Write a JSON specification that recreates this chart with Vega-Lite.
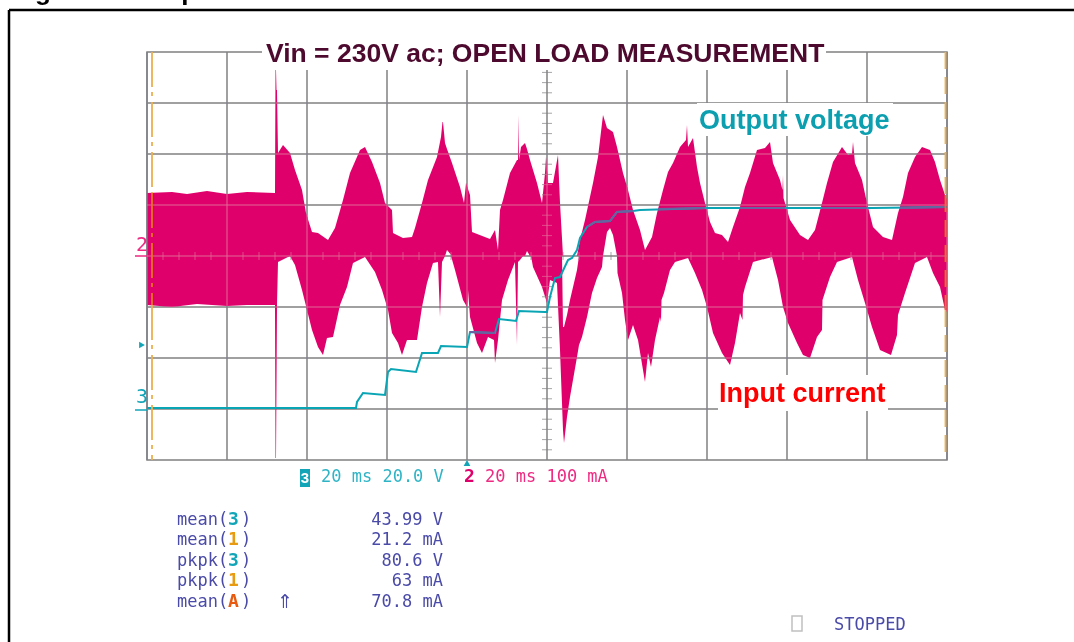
{"$schema":"https://vega.github.io/schema/vega-lite/v6.json","width":800,"height":408,"autosize":{"type":"none"},"padding":{"left":147,"top":52,"right":127,"bottom":182},"background":"#ffffff","config":{"view":{"stroke":"#808080","strokeWidth":1.5}},
"datasets":{
"upper":[{"t":0,"v":267,"b":204},{"t":25,"v":268,"b":204},{"t":40,"v":266,"b":204},{"t":60,"v":269,"b":204},{"t":80,"v":266,"b":204},{"t":100,"v":268,"b":204},{"t":128,"v":267,"b":204},{"t":128.5,"v":390,"b":204},{"t":129,"v":390,"b":204},{"t":129.5,"v":370,"b":204},{"t":130,"v":370,"b":204},{"t":131,"v":307,"b":204},{"t":136,"v":315,"b":204},{"t":143,"v":307,"b":204},{"t":148,"v":290,"b":204},{"t":155,"v":270,"b":204},{"t":159,"v":247,"b":204},{"t":165,"v":228,"b":204},{"t":171,"v":227,"b":204},{"t":181,"v":220,"b":204},{"t":188,"v":232,"b":204},{"t":196,"v":260,"b":204},{"t":203,"v":287,"b":204},{"t":213,"v":310,"b":204},{"t":218,"v":313,"b":204},{"t":225,"v":298,"b":204},{"t":233,"v":277,"b":204},{"t":238,"v":257,"b":204},{"t":245,"v":250,"b":204},{"t":246,"v":227,"b":204},{"t":256,"v":222,"b":204},{"t":265,"v":223,"b":204},{"t":268,"v":232,"b":204},{"t":275,"v":257,"b":204},{"t":281,"v":280,"b":204},{"t":290,"v":303,"b":204},{"t":294,"v":323,"b":204},{"t":295.5,"v":338,"b":204},{"t":296,"v":338,"b":204},{"t":298,"v":317,"b":204},{"t":300,"v":311,"b":210},{"t":305,"v":297,"b":204},{"t":313,"v":273,"b":204},{"t":317,"v":257,"b":204},{"t":319,"v":277,"b":204},{"t":323,"v":265,"b":204},{"t":325,"v":228,"b":204},{"t":343,"v":221,"b":204},{"t":348,"v":230,"b":204},{"t":351,"v":210,"b":204},{"t":353,"v":250,"b":204},{"t":356,"v":260,"b":204},{"t":363,"v":287,"b":204},{"t":370,"v":300,"b":204},{"t":371,"v":300,"b":204},{"t":371.5,"v":345,"b":204},{"t":372,"v":300,"b":204},{"t":374,"v":313,"b":204},{"t":378,"v":317,"b":204},{"t":380,"v":311,"b":209},{"t":383,"v":300,"b":204},{"t":390,"v":277,"b":204},{"t":395,"v":257,"b":204},{"t":398,"v":287,"b":204},{"t":399,"v":303,"b":204},{"t":401,"v":277,"b":204},{"t":406,"v":277,"b":204},{"t":411,"v":305,"b":204},{"t":413,"v":257,"b":204},{"t":416,"v":204,"b":204},{"t":430,"v":204,"b":204},{"t":433,"v":220,"b":204},{"t":438,"v":240,"b":204},{"t":446,"v":277,"b":204},{"t":451,"v":303,"b":204},{"t":456,"v":345,"b":204},{"t":460,"v":332,"b":228},{"t":463,"v":330,"b":232},{"t":466,"v":328,"b":225},{"t":470,"v":313,"b":204},{"t":476,"v":287,"b":204},{"t":481,"v":270,"b":204},{"t":486,"v":250,"b":204},{"t":493,"v":230,"b":204},{"t":498,"v":210,"b":204},{"t":505,"v":223,"b":204},{"t":510,"v":247,"b":204},{"t":516,"v":270,"b":204},{"t":521,"v":288,"b":204},{"t":526,"v":297,"b":204},{"t":533,"v":313,"b":204},{"t":539,"v":320,"b":204},{"t":540,"v":335,"b":204},{"t":541,"v":313,"b":204},{"t":546,"v":322,"b":204},{"t":550,"v":293,"b":204},{"t":553,"v":277,"b":204},{"t":558,"v":257,"b":204},{"t":563,"v":238,"b":204},{"t":568,"v":227,"b":204},{"t":575,"v":225,"b":204},{"t":581,"v":218,"b":204},{"t":586,"v":233,"b":204},{"t":593,"v":253,"b":204},{"t":598,"v":273,"b":204},{"t":603,"v":287,"b":204},{"t":610,"v":310,"b":204},{"t":618,"v":312,"b":204},{"t":623,"v":318,"b":204},{"t":626,"v":297,"b":204},{"t":633,"v":280,"b":204},{"t":635.5,"v":270,"b":204},{"t":636,"v":285,"b":204},{"t":636.5,"v":262,"b":204},{"t":638,"v":257,"b":204},{"t":643,"v":240,"b":204},{"t":653,"v":225,"b":204},{"t":661,"v":220,"b":204},{"t":668,"v":230,"b":204},{"t":675,"v":257,"b":204},{"t":680,"v":277,"b":204},{"t":686,"v":298,"b":204},{"t":695,"v":313,"b":204},{"t":701,"v":305,"b":204},{"t":705,"v":306,"b":204},{"t":706,"v":318,"b":204},{"t":708,"v":297,"b":204},{"t":715,"v":280,"b":204},{"t":720,"v":257,"b":204},{"t":726,"v":233,"b":204},{"t":736,"v":223,"b":204},{"t":745,"v":220,"b":204},{"t":751,"v":247,"b":204},{"t":756,"v":263,"b":204},{"t":761,"v":287,"b":204},{"t":768,"v":303,"b":204},{"t":775,"v":313,"b":204},{"t":783,"v":310,"b":204},{"t":788,"v":298,"b":204},{"t":793,"v":280,"b":204},{"t":798,"v":265,"b":204},{"t":800,"v":260,"b":204}],
"lower":[{"t":0,"v":155,"b":204},{"t":25,"v":153,"b":204},{"t":50,"v":156,"b":204},{"t":80,"v":154,"b":204},{"t":100,"v":155,"b":204},{"t":128,"v":155,"b":204},{"t":128.5,"v":2,"b":204},{"t":129,"v":2,"b":204},{"t":130,"v":155,"b":204},{"t":131,"v":198,"b":204},{"t":143,"v":204,"b":204},{"t":148,"v":195,"b":204},{"t":155,"v":170,"b":204},{"t":160,"v":150,"b":204},{"t":165,"v":130,"b":204},{"t":171,"v":113,"b":204},{"t":176,"v":105,"b":204},{"t":180,"v":122,"b":204},{"t":186,"v":123,"b":204},{"t":193,"v":155,"b":204},{"t":200,"v":173,"b":204},{"t":206,"v":197,"b":204},{"t":218,"v":203,"b":204},{"t":228,"v":188,"b":204},{"t":235,"v":170,"b":204},{"t":241,"v":150,"b":204},{"t":245,"v":127,"b":204},{"t":251,"v":117,"b":204},{"t":255,"v":105,"b":204},{"t":260,"v":120,"b":204},{"t":270,"v":120,"b":204},{"t":275,"v":153,"b":204},{"t":280,"v":177,"b":204},{"t":286,"v":197,"b":204},{"t":291,"v":198,"b":204},{"t":293,"v":143,"b":204},{"t":295,"v":198,"b":204},{"t":298,"v":204,"b":204},{"t":304,"v":204,"b":204},{"t":308,"v":190,"b":204},{"t":316,"v":160,"b":204},{"t":320,"v":153,"b":204},{"t":321,"v":170,"b":204},{"t":323,"v":143,"b":204},{"t":330,"v":117,"b":204},{"t":335,"v":107,"b":204},{"t":341,"v":123,"b":204},{"t":347,"v":120,"b":204},{"t":348,"v":97,"b":204},{"t":351,"v":120,"b":204},{"t":355,"v":160,"b":204},{"t":361,"v":180,"b":204},{"t":368,"v":198,"b":204},{"t":370,"v":115,"b":204},{"t":371,"v":198,"b":204},{"t":373,"v":200,"b":204},{"t":376,"v":204,"b":204},{"t":384,"v":204,"b":204},{"t":386,"v":193,"b":204},{"t":395,"v":173,"b":204},{"t":400,"v":157,"b":204},{"t":403,"v":180,"b":204},{"t":410,"v":177,"b":204},{"t":413,"v":110,"b":204},{"t":415,"v":57,"b":204},{"t":416,"v":30,"b":133},{"t":417,"v":17,"b":133},{"t":420,"v":43,"b":145},{"t":423,"v":63,"b":160},{"t":430,"v":103,"b":190},{"t":432,"v":115,"b":204},{"t":435,"v":123,"b":204},{"t":440,"v":143,"b":204},{"t":445,"v":167,"b":204},{"t":450,"v":182,"b":204},{"t":455,"v":193,"b":204},{"t":456,"v":204,"b":204},{"t":470,"v":204,"b":204},{"t":470.5,"v":187,"b":204},{"t":475,"v":167,"b":204},{"t":478,"v":140,"b":204},{"t":481,"v":120,"b":204},{"t":486,"v":135,"b":204},{"t":491,"v":120,"b":204},{"t":496,"v":90,"b":204},{"t":498,"v":78,"b":204},{"t":501,"v":107,"b":204},{"t":504,"v":93,"b":204},{"t":508,"v":120,"b":204},{"t":513,"v":143,"b":204},{"t":514,"v":138,"b":204},{"t":514.5,"v":160,"b":204},{"t":517,"v":167,"b":204},{"t":523,"v":190,"b":204},{"t":528,"v":198,"b":204},{"t":541,"v":202,"b":204},{"t":548,"v":187,"b":204},{"t":555,"v":170,"b":204},{"t":560,"v":153,"b":204},{"t":566,"v":127,"b":204},{"t":575,"v":107,"b":204},{"t":583,"v":95,"b":204},{"t":588,"v":117,"b":204},{"t":593,"v":147,"b":204},{"t":595.5,"v":140,"b":204},{"t":596,"v":165,"b":204},{"t":598,"v":173,"b":204},{"t":606,"v":198,"b":204},{"t":625,"v":203,"b":204},{"t":631,"v":180,"b":204},{"t":636,"v":153,"b":204},{"t":641,"v":137,"b":204},{"t":650,"v":117,"b":204},{"t":656,"v":105,"b":204},{"t":663,"v":102,"b":204},{"t":670,"v":123,"b":204},{"t":675,"v":130,"b":204},{"t":675.5,"v":160,"b":204},{"t":683,"v":183,"b":204},{"t":690,"v":198,"b":204},{"t":705,"v":203,"b":204},{"t":711,"v":180,"b":204},{"t":718,"v":157,"b":204},{"t":725,"v":133,"b":204},{"t":733,"v":110,"b":204},{"t":744,"v":105,"b":204},{"t":750,"v":125,"b":204},{"t":751,"v":145,"b":204},{"t":758,"v":167,"b":204},{"t":768,"v":197,"b":204},{"t":780,"v":203,"b":204},{"t":786,"v":187,"b":204},{"t":793,"v":173,"b":204},{"t":798,"v":150,"b":204},{"t":800,"v":148,"b":204}],
"voltage":[{"t":0,"v":52},{"t":100,"v":52},{"t":209,"v":52},{"t":210,"v":58},{"t":216,"v":67},{"t":238,"v":65},{"t":241,"v":88},{"t":244,"v":91},{"t":269,"v":88},{"t":275,"v":107},{"t":291,"v":107},{"t":294,"v":114},{"t":320,"v":113},{"t":323,"v":128},{"t":348,"v":127},{"t":352,"v":141},{"t":369,"v":139},{"t":372,"v":149},{"t":398,"v":148},{"t":400,"v":148},{"t":403,"v":163},{"t":408,"v":182},{"t":413,"v":183},{"t":421,"v":200},{"t":425,"v":202},{"t":430,"v":210},{"t":433,"v":222},{"t":440,"v":233},{"t":448,"v":238},{"t":463,"v":239},{"t":470,"v":248},{"t":486,"v":249},{"t":493,"v":250},{"t":560,"v":252},{"t":660,"v":252},{"t":726,"v":252},{"t":800,"v":253}],
"overlap":[{"s":"a","t":323,"v":128},{"s":"a","t":348,"v":127},{"s":"b","t":440,"v":233},{"s":"b","t":448,"v":238},{"s":"b","t":463,"v":239},{"s":"b","t":470,"v":248},{"s":"b","t":486,"v":249},{"s":"c","t":511,"v":251},{"s":"c","t":558,"v":252},{"s":"d","t":593,"v":252},{"s":"d","t":638,"v":252},{"s":"e","t":675,"v":252},{"s":"e","t":720,"v":252},{"s":"f","t":753,"v":252},{"s":"f","t":800,"v":253}],
"gridV":[{"t":0,"v":0,"v2":408},{"t":80,"v":0,"v2":408},{"t":160,"v":0,"v2":408},{"t":240,"v":0,"v2":408},{"t":320,"v":0,"v2":408},{"t":400,"v":0,"v2":408},{"t":480,"v":0,"v2":408},{"t":560,"v":0,"v2":408},{"t":640,"v":0,"v2":408},{"t":720,"v":0,"v2":408},{"t":800,"v":0,"v2":408}],
"gridH":[{"t":0,"t2":800,"v":51},{"t":0,"t2":800,"v":102},{"t":0,"t2":800,"v":153},{"t":0,"t2":800,"v":204},{"t":0,"t2":800,"v":255},{"t":0,"t2":800,"v":306},{"t":0,"t2":800,"v":357}],
"ticksH":[{"t":16,"v":204},{"t":32,"v":204},{"t":48,"v":204},{"t":64,"v":204},{"t":96,"v":204},{"t":112,"v":204},{"t":128,"v":204},{"t":144,"v":204},{"t":176,"v":204},{"t":192,"v":204},{"t":208,"v":204},{"t":224,"v":204},{"t":256,"v":204},{"t":272,"v":204},{"t":288,"v":204},{"t":304,"v":204},{"t":336,"v":204},{"t":352,"v":204},{"t":368,"v":204},{"t":384,"v":204},{"t":416,"v":204},{"t":432,"v":204},{"t":448,"v":204},{"t":464,"v":204},{"t":496,"v":204},{"t":512,"v":204},{"t":528,"v":204},{"t":544,"v":204},{"t":576,"v":204},{"t":592,"v":204},{"t":608,"v":204},{"t":624,"v":204},{"t":656,"v":204},{"t":672,"v":204},{"t":688,"v":204},{"t":704,"v":204},{"t":736,"v":204},{"t":752,"v":204},{"t":768,"v":204},{"t":784,"v":204}],
"ticksV":[{"t":400,"v":10.2},{"t":400,"v":20.4},{"t":400,"v":30.6},{"t":400,"v":40.8},{"t":400,"v":61.2},{"t":400,"v":71.4},{"t":400,"v":81.6},{"t":400,"v":91.8},{"t":400,"v":112.2},{"t":400,"v":122.4},{"t":400,"v":132.6},{"t":400,"v":142.8},{"t":400,"v":163.2},{"t":400,"v":173.4},{"t":400,"v":183.6},{"t":400,"v":193.8},{"t":400,"v":214.2},{"t":400,"v":224.4},{"t":400,"v":234.6},{"t":400,"v":244.8},{"t":400,"v":265.2},{"t":400,"v":275.4},{"t":400,"v":285.6},{"t":400,"v":295.8},{"t":400,"v":316.2},{"t":400,"v":326.4},{"t":400,"v":336.6},{"t":400,"v":346.8},{"t":400,"v":367.2},{"t":400,"v":377.4},{"t":400,"v":387.6}],
"boxes":[{"t":115,"t2":679,"v":430,"v2":390},{"t":550,"t2":746,"v":357,"v2":324},{"t":571,"t2":741,"v":85,"v2":49}],
"frame":[{"t":-138,"t2":927,"v":450,"v2":450},{"t":-138,"t2":-138,"v":450,"v2":-182}],
"cursorL":[{"t":5,"v":408,"v2":267,"kind":"cursor"},{"t":5,"v":267,"v2":155,"kind":"cursorPink"},{"t":5,"v":155,"v2":0,"kind":"cursor"}],
"cursorR":[{"t":798.5,"v":408,"v2":265,"kind":"cursor"},{"t":798.5,"v":265,"v2":150,"kind":"cursorPink"},{"t":798.5,"v":150,"v2":0,"kind":"cursor"}],
"underlines":[{"t":-12,"t2":0,"v":204,"kind":"pink"},{"t":-12,"t2":0,"v":50,"kind":"tealBold"}],
"title":[{"t":119,"v":406,"text":"Vin = 230V ac; OPEN LOAD MEASUREMENT","kind":"title"}],
"big":[{"t":552,"v":339,"text":"Output voltage","kind":"output"},{"t":572,"v":66,"text":"Input current","kind":"input"}],
"heading":[{"t":-135,"v":460,"text":"Figure 14.","kind":"heading"},{"t":14,"v":460,"text":"Open load measurement","kind":"heading"}],
"mono":[{"t":174,"v":-17,"text":"20 ms 20.0 V","kind":"teal"},{"t":338,"v":-17,"text":"20 ms 100 mA","kind":"pink"},{"t":30,"v":-60,"text":"mean(","kind":"blue"},{"t":30,"v":-80,"text":"mean(","kind":"blue"},{"t":30,"v":-101,"text":"pkpk(","kind":"blue"},{"t":30,"v":-121,"text":"pkpk(","kind":"blue"},{"t":30,"v":-142,"text":"mean(","kind":"blue"},{"t":94,"v":-60,"text":")","kind":"blue"},{"t":94,"v":-80,"text":")","kind":"blue"},{"t":94,"v":-101,"text":")","kind":"blue"},{"t":94,"v":-121,"text":")","kind":"blue"},{"t":94,"v":-142,"text":")","kind":"blue"},{"t":687,"v":-165,"text":"STOPPED","kind":"blue"}],
"digits":[{"t":81,"v":-60,"text":"3","kind":"tealBold"},{"t":81,"v":-80,"text":"1","kind":"amber"},{"t":81,"v":-101,"text":"3","kind":"tealBold"},{"t":81,"v":-121,"text":"1","kind":"amber"},{"t":81,"v":-142,"text":"A","kind":"redOrange"},{"t":317,"v":-17,"text":"2","kind":"pinkBold"}],
"badgeDigit":[{"t":158,"v":-18,"text":"3","kind":"white"}],
"channels":[{"t":-11,"v":215,"text":"2","kind":"pink"},{"t":-11,"v":63,"text":"3","kind":"tealBold"}],
"values":[{"t":296,"v":-60,"text":"43.99 V","kind":"blue"},{"t":296,"v":-80,"text":"21.2 mA","kind":"blue"},{"t":296,"v":-101,"text":"80.6 V","kind":"blue"},{"t":296,"v":-121,"text":"63 mA","kind":"blue"},{"t":296,"v":-142,"text":"70.8 mA","kind":"blue"}],
"arrow":[{"t":130,"v":-142,"text":"⇑","kind":"blue"}],
"badge":[{"t":153,"t2":163,"v":-9,"v2":-27}],
"checkbox":[{"t":645,"t2":655,"v":-156,"v2":-171}],
"triUp":[{"t":320,"v":-3}],
"triRight":[{"t":-5,"v":115}]
},
"encoding":{"x":{"field":"t","type":"quantitative","scale":{"domain":[0,800],"nice":false,"zero":false},"axis":null},"y":{"field":"v","type":"quantitative","scale":{"domain":[0,408],"nice":false,"zero":false},"axis":null}},
"layer":[
{"data":{"name":"gridV"},"mark":{"type":"rule","color":"#808080","strokeWidth":1.5},"encoding":{"y2":{"field":"v2"}}},
{"data":{"name":"gridH"},"mark":{"type":"rule","color":"#808080","strokeWidth":1.5},"encoding":{"x2":{"field":"t2"}}},
{"data":{"name":"ticksH"},"mark":{"type":"tick","orient":"vertical","size":8,"thickness":1,"color":"#808080"}},
{"data":{"name":"ticksV"},"mark":{"type":"tick","orient":"horizontal","size":10,"thickness":1,"color":"#808080"}},
{"data":{"name":"upper"},"mark":{"type":"area","color":"#E0006B","interpolate":"linear"},"encoding":{"y2":{"field":"b"}}},
{"data":{"name":"lower"},"mark":{"type":"area","color":"#E0006B","interpolate":"linear"},"encoding":{"y2":{"field":"b"}}},
{"data":{"name":"gridV"},"mark":{"type":"rule","color":"#806896","strokeWidth":1,"blend":"lighten"},"encoding":{"y2":{"field":"v2"}}},
{"data":{"name":"gridH"},"mark":{"type":"rule","color":"#806896","strokeWidth":1,"blend":"lighten"},"encoding":{"x2":{"field":"t2"}}},
{"data":{"name":"ticksH"},"mark":{"type":"tick","orient":"vertical","size":8,"thickness":1,"color":"#806896","blend":"lighten"}},
{"data":{"name":"ticksV"},"mark":{"type":"tick","orient":"horizontal","size":10,"thickness":1,"color":"#806896","blend":"lighten"}},
{"data":{"name":"boxes"},"mark":{"type":"rect","color":"#ffffff","clip":false},"encoding":{"x2":{"field":"t2"},"y2":{"field":"v2"}}},
{"data":{"name":"frame"},"mark":{"type":"rule","color":"#000000","strokeWidth":2.5},"encoding":{"x2":{"field":"t2"},"y2":{"field":"v2"}}},
{"data":{"name":"voltage"},"mark":{"type":"line","color":"#0AA5B5","strokeWidth":2,"interpolate":"linear"}},
{"data":{"name":"overlap"},"mark":{"type":"line","color":"#6A62A0","strokeWidth":2},"encoding":{"detail":{"field":"s"}}},
{"data":{"name":"cursorL"},"mark":{"type":"rule","strokeWidth":1.8,"strokeDash":[35,5,4,6]},"encoding":{"y2":{"field":"v2"},"color":{"field":"kind","type":"nominal","legend":null,"scale":{"domain":["title","output","input","heading","teal","pink","pinkBold","blue","tealBold","amber","redOrange","white","cursor","cursorPink"],"range":["#4d0a2e","#0c9fb0","#ff0000","#000000","#2fb4c6","#ee2a82","#e0006b","#4a4aa8","#12a5b8","#e89a10","#e85a10","#ffffff","#ecb050","#e8701f"]}}}},
{"data":{"name":"cursorR"},"mark":{"type":"rule","strokeWidth":1.8,"strokeDash":[17,8]},"encoding":{"y2":{"field":"v2"},"color":{"field":"kind","type":"nominal","legend":null}}},
{"data":{"name":"underlines"},"mark":{"type":"rule","strokeWidth":1.5},"encoding":{"x2":{"field":"t2"},"color":{"field":"kind","type":"nominal","legend":null}}},
{"data":{"name":"badge"},"mark":{"type":"rect","color":"#12A5B8"},"encoding":{"x2":{"field":"t2"},"y2":{"field":"v2"}}},
{"data":{"name":"checkbox"},"mark":{"type":"rect","fillOpacity":0,"stroke":"#c0c0c0","strokeWidth":1.5},"encoding":{"x2":{"field":"t2"},"y2":{"field":"v2"}}},
{"data":{"name":"triUp"},"mark":{"type":"point","shape":"triangle-up","filled":true,"size":45,"color":"#12A5B8","opacity":1}},
{"data":{"name":"triRight"},"mark":{"type":"point","shape":"triangle-right","filled":true,"size":45,"color":"#12A5B8","opacity":1}},
{"data":{"name":"title"},"mark":{"type":"text","align":"left","baseline":"middle","font":"Liberation Sans","fontWeight":"bold","fontSize":26.5},"encoding":{"text":{"field":"text"},"color":{"field":"kind","type":"nominal","legend":null}}},
{"data":{"name":"big"},"mark":{"type":"text","align":"left","baseline":"middle","font":"Liberation Sans","fontWeight":"bold","fontSize":27},"encoding":{"text":{"field":"text"},"color":{"field":"kind","type":"nominal","legend":null}}},
{"data":{"name":"heading"},"mark":{"type":"text","align":"left","baseline":"alphabetic","font":"Liberation Sans","fontWeight":"bold","fontSize":26},"encoding":{"text":{"field":"text"},"color":{"field":"kind","type":"nominal","legend":null}}},
{"data":{"name":"mono"},"mark":{"type":"text","align":"left","baseline":"middle","font":"DejaVu Sans Mono","fontSize":17},"encoding":{"text":{"field":"text"},"color":{"field":"kind","type":"nominal","legend":null}}},
{"data":{"name":"digits"},"mark":{"type":"text","align":"left","baseline":"middle","font":"DejaVu Sans Mono","fontWeight":"bold","fontSize":18},"encoding":{"text":{"field":"text"},"color":{"field":"kind","type":"nominal","legend":null}}},
{"data":{"name":"badgeDigit"},"mark":{"type":"text","align":"center","baseline":"middle","font":"Liberation Sans","fontWeight":"bold","fontSize":15},"encoding":{"text":{"field":"text"},"color":{"field":"kind","type":"nominal","legend":null}}},
{"data":{"name":"channels"},"mark":{"type":"text","align":"left","baseline":"middle","font":"DejaVu Sans Mono","fontSize":20},"encoding":{"text":{"field":"text"},"color":{"field":"kind","type":"nominal","legend":null}}},
{"data":{"name":"values"},"mark":{"type":"text","align":"right","baseline":"middle","font":"DejaVu Sans Mono","fontSize":17},"encoding":{"text":{"field":"text"},"color":{"field":"kind","type":"nominal","legend":null}}},
{"data":{"name":"arrow"},"mark":{"type":"text","align":"left","baseline":"middle","font":"DejaVu Sans","fontSize":19},"encoding":{"text":{"field":"text"},"color":{"field":"kind","type":"nominal","legend":null}}}
],
"resolve":{"scale":{"color":"shared"}}
}
